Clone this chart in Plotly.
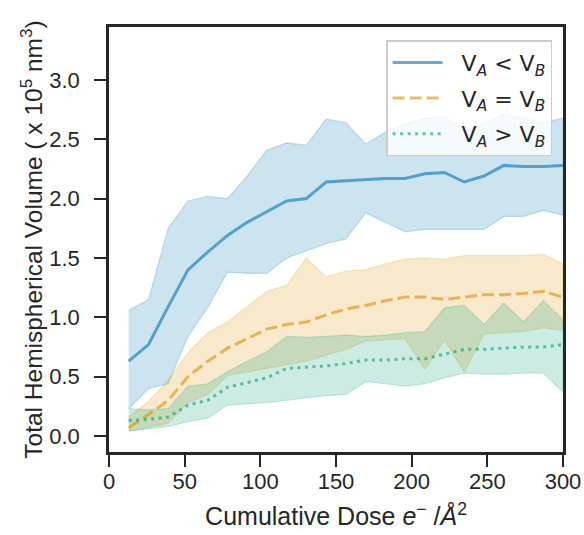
import plotly.graph_objects as go

# Cumulative electron dose per frame (e-/Å^2)
dose = [13.0, 26.1, 39.1, 52.2, 65.2, 78.3, 91.3, 104.3, 117.4, 130.4, 143.5, 156.5,
        169.6, 182.6, 195.7, 208.7, 221.7, 234.8, 247.8, 260.9, 273.9, 287.0, 300.0]

# V_A < V_B : mean and confidence band
lt_mean = [0.63, 0.77, 1.09, 1.40, 1.55, 1.69, 1.80, 1.89, 1.98, 2.00, 2.14, 2.15,
           2.16, 2.17, 2.17, 2.21, 2.22, 2.14, 2.19, 2.28, 2.27, 2.27, 2.28]
lt_high = [1.06, 1.15, 1.75, 1.98, 2.02, 2.00, 2.19, 2.41, 2.47, 2.45, 2.67, 2.64,
           2.46, 2.56, 2.63, 2.68, 2.69, 2.57, 2.64, 2.71, 2.68, 2.64, 2.68]
lt_low = [0.23, 0.40, 0.44, 0.84, 1.08, 1.38, 1.37, 1.37, 1.50, 1.56, 1.62, 1.66,
          1.88, 1.80, 1.72, 1.74, 1.74, 1.74, 1.74, 1.85, 1.85, 1.90, 1.86]

# V_A = V_B
eq_mean = [0.07, 0.18, 0.30, 0.50, 0.63, 0.74, 0.82, 0.90, 0.94, 0.96, 1.02, 1.07,
           1.10, 1.14, 1.17, 1.17, 1.15, 1.17, 1.19, 1.19, 1.20, 1.22, 1.17]
eq_high = [0.16, 0.29, 0.47, 0.70, 0.87, 0.96, 1.09, 1.22, 1.27, 1.50, 1.34, 1.39,
           1.40, 1.45, 1.49, 1.50, 1.49, 1.52, 1.52, 1.52, 1.52, 1.53, 1.45]
eq_low = [0.04, 0.07, 0.11, 0.28, 0.35, 0.51, 0.54, 0.57, 0.60, 0.63, 0.68, 0.73,
          0.80, 0.81, 0.82, 0.56, 0.81, 0.54, 0.86, 0.87, 0.88, 0.91, 0.89]

# V_A > V_B
gt_mean = [0.13, 0.14, 0.16, 0.26, 0.30, 0.41, 0.45, 0.49, 0.57, 0.58, 0.59, 0.61,
           0.64, 0.64, 0.65, 0.65, 0.69, 0.73, 0.73, 0.74, 0.75, 0.75, 0.77]
gt_high = [0.23, 0.22, 0.23, 0.42, 0.44, 0.54, 0.63, 0.71, 0.84, 0.83, 0.84, 0.85,
           0.84, 0.85, 0.87, 0.88, 1.08, 1.10, 0.94, 1.12, 0.96, 1.14, 0.98]
gt_low = [0.04, 0.06, 0.08, 0.12, 0.15, 0.26, 0.27, 0.28, 0.30, 0.32, 0.34, 0.35,
          0.46, 0.44, 0.42, 0.44, 0.49, 0.53, 0.52, 0.52, 0.53, 0.53, 0.37]

labels = ["&nbsp;&nbsp;V<sub><i>A</i></sub> &lt; V<sub><i>B</i></sub>",
          "&nbsp;&nbsp;V<sub><i>A</i></sub> = V<sub><i>B</i></sub>",
          "&nbsp;&nbsp;V<sub><i>A</i></sub> &gt; V<sub><i>B</i></sub>"]

series = [
    (lt_mean, lt_high, lt_low, (1, 115, 178), "solid"),
    (eq_mean, eq_high, eq_low, (222, 143, 5), "12px,5px"),
    (gt_mean, gt_high, gt_low, (2, 158, 115), "3px,4.5px"),
]

fig = go.Figure()

# confidence bands first, so every line sits on top of every band
for mean, high, low, rgb, dash in series:
    band = "rgba(%d,%d,%d,0.2)" % rgb
    fig.add_trace(go.Scatter(
        x=dose + dose[::-1], y=high + low[::-1],
        fill="toself", fillcolor=band, mode="lines",
        line=dict(color=band, width=1.2),
        hoverinfo="skip", showlegend=False))

for (mean, high, low, rgb, dash), name in zip(series, labels):
    fig.add_trace(go.Scatter(
        x=dose, y=mean, mode="lines", name=name, legendgroup=name,
        line=dict(color="rgba(%d,%d,%d,0.6)" % rgb, width=3, dash=dash)))

ink = "#262626"
axis_common = dict(
    showline=True, linecolor=ink, linewidth=2.5, mirror=True,
    ticks="outside", ticklen=12, tickwidth=2.2, tickcolor=ink,
    showgrid=False, zeroline=False, automargin=False,
    tickfont=dict(family="Liberation Sans", size=22, color=ink),
)

fig.update_layout(
    width=584, height=535, autosize=False,
    margin=dict(l=109, r=21, t=27, b=83),
    plot_bgcolor="white", paper_bgcolor="white",
    xaxis=dict(range=[0, 300], tickvals=[0, 50, 100, 150, 200, 250, 300],
               ticklabelstandoff=-4,
               title=dict(text="Cumulative Dose <i>e</i><sup>−</sup> /<i>Å</i><sup>2</sup>",
                          font=dict(family="Liberation Sans", size=25, color=ink),
                          standoff=15),
               **axis_common),
    yaxis=dict(range=[-0.135, 3.446], tickvals=[0, 0.5, 1, 1.5, 2, 2.5, 3],
               ticktext=["0.0", "0.5", "1.0", "1.5", "2.0", "2.5", "3.0"],
               ticklabelstandoff=10,
               title=dict(text="Total Hemispherical Volume ( x 10<sup>5</sup> nm<sup>3</sup>)",
                          font=dict(family="Liberation Sans", size=24.5, color=ink),
                          standoff=0),
               **axis_common),
    legend=dict(x=0.976, y=0.969, xanchor="right", yanchor="top",
                bgcolor="rgba(255,255,255,0.8)", bordercolor="#cccccc", borderwidth=1.5,
                font=dict(family="DejaVu Sans", size=22, color=ink),
                itemwidth=50, traceorder="grouped", tracegroupgap=4),
)

fig.write_html("out.html")
